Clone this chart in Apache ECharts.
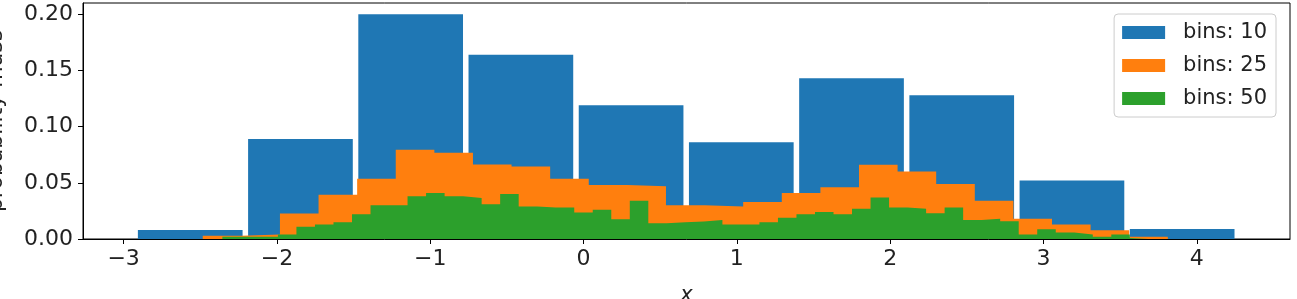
<!DOCTYPE html>
<html><head><meta charset="utf-8">
<script src="https://cdn.jsdelivr.net/npm/echarts@6/dist/echarts.min.js"></script>
<style>html,body{margin:0;padding:0;background:#fff;overflow:hidden}#c{width:1297px;height:299px}</style>
</head><body><div id="c"></div>
<script>
// ---- data ----
const seriesNames = ['bins: 10', 'bins: 25', 'bins: 50'];
const bins10Start = -2.925, bins10Width = 0.7189;
const bins10 = [0.008, 0.089, 0.200, 0.164, 0.119, 0.086, 0.143, 0.128, 0.052, 0.009];
const bins25Start = -2.484, bins25Width = 0.2518;
const bins25 = [0.003, 0.004, 0.0226, 0.0394, 0.0537, 0.0795, 0.0768, 0.0664, 0.0646, 0.0537,
                0.048, 0.047, 0.030, 0.029, 0.033, 0.041, 0.046, 0.066, 0.060, 0.049,
                0.034, 0.018, 0.013, 0.0077, 0.002];
const bins50Start = -2.356, bins50Width = 0.1208;
const bins50 = [0.002, 0.002, 0.002, 0.004, 0.011, 0.013, 0.015, 0.022, 0.030, 0.030,
                0.038, 0.041, 0.038, 0.0365, 0.031, 0.040, 0.029, 0.028, 0.028, 0.0235,
                0.026, 0.0175, 0.034, 0.014, 0.015, 0.0155, 0.017, 0.013, 0.013, 0.015,
                0.019, 0.022, 0.024, 0.022, 0.027, 0.037, 0.028, 0.027, 0.023, 0.028,
                0.017, 0.018, 0.0157, 0.004, 0.0086, 0.0057, 0.004, 0.002, 0.004, 0.001];
const xTicks = [-3, -2, -1, 0, 1, 2, 3, 4];
const yTicks = [0, 0.05, 0.10, 0.15, 0.20];
const xRange = [-3.265, 4.608];
const yRange = [0, 0.21];

// ---- build ----
const colors = ['#1f77b4', '#ff7f0e', '#2ca02c'];
const FONT = 'DejaVu Sans';
const rwidth = 0.95;

const barData = bins10.map((v, i) => {
  const lo = bins10Start + i * bins10Width;
  const pad = (1 - rwidth) / 2 * bins10Width;
  return [lo + pad, lo + bins10Width - pad, v];
});
function stepData(start, width, vals) {
  const d = vals.map((v, i) => [start + i * width, v]);
  d.push([start + vals.length * width, vals[vals.length - 1]]);
  return d;
}

const chart = echarts.init(document.getElementById('c'), null, {renderer: 'canvas'});
chart.setOption({
  animation: false,
  backgroundColor: '#fff',
  textStyle: {fontFamily: FONT},
  grid: {left: 83, right: 7, top: 3, bottom: 60, show: true, borderColor: '#000', borderWidth: 1,
    backgroundColor: 'transparent', containLabel: false, outerBoundsMode: 'none'},
  legend: {
    orient: 'vertical', right: 21, top: 14,
    data: seriesNames, icon: 'rect', itemWidth: 43, itemHeight: 13, itemGap: 12,
    padding: [8, 9, 8, 8],
    backgroundColor: 'rgba(255,255,255,0.8)', borderColor: '#cccccc', borderWidth: 1, borderRadius: 4,
    textStyle: {fontFamily: FONT, fontSize: 21, color: '#222', padding: [0, 0, 0, 13]}
  },
  xAxis: {
    type: 'value', min: xRange[0], max: xRange[1],
    name: 'x', nameLocation: 'middle', nameGap: 46,
    nameTextStyle: {fontFamily: FONT, fontSize: 21, color: '#222', fontStyle: 'italic'},
    axisLine: {show: true, onZero: false, lineStyle: {color: '#000', width: 1}},
    axisTick: {show: true, length: 5, lineStyle: {color: '#000'}, customValues: xTicks},
    axisLabel: {show: true, margin: 9, fontFamily: FONT, fontSize: 22, color: '#222', customValues: xTicks,
      formatter: v => String(v).replace('-', '\u2212')},
    splitLine: {show: false}
  },
  yAxis: {
    type: 'value', min: yRange[0], max: yRange[1],
    name: 'probability mass', nameLocation: 'middle', nameGap: 76,
    nameTextStyle: {fontFamily: FONT, fontSize: 22, color: '#222'},
    axisLine: {show: true, onZero: false, lineStyle: {color: '#000', width: 1}},
    axisTick: {show: true, length: 5, lineStyle: {color: '#000'}, customValues: yTicks},
    axisLabel: {show: true, margin: 10, fontFamily: FONT, fontSize: 22, color: '#222', customValues: yTicks,
      formatter: v => v.toFixed(2)},
    splitLine: {show: false}
  },
  series: [
    {
      name: seriesNames[0], type: 'custom', color: colors[0], itemStyle: {color: colors[0]},
      encode: {x: [0, 1], y: 2},
      data: barData,
      renderItem: function (params, api) {
        const p0 = api.coord([api.value(0), api.value(2)]);
        const p1 = api.coord([api.value(1), 0]);
        return {type: 'rect', shape: {x: p0[0], y: p0[1], width: p1[0] - p0[0], height: p1[1] - p0[1]},
          style: {fill: colors[0]}};
      }
    },
    {
      name: seriesNames[1], type: 'line', step: 'end', color: colors[1], symbol: 'none',
      lineStyle: {width: 0}, areaStyle: {color: colors[1], opacity: 1}, itemStyle: {color: colors[1]},
      data: stepData(bins25Start, bins25Width, bins25)
    },
    {
      name: seriesNames[2], type: 'line', step: 'end', color: colors[2], symbol: 'none',
      lineStyle: {width: 0}, areaStyle: {color: colors[2], opacity: 1}, itemStyle: {color: colors[2]},
      data: stepData(bins50Start, bins50Width, bins50)
    }
  ]
});
</script></body></html>
